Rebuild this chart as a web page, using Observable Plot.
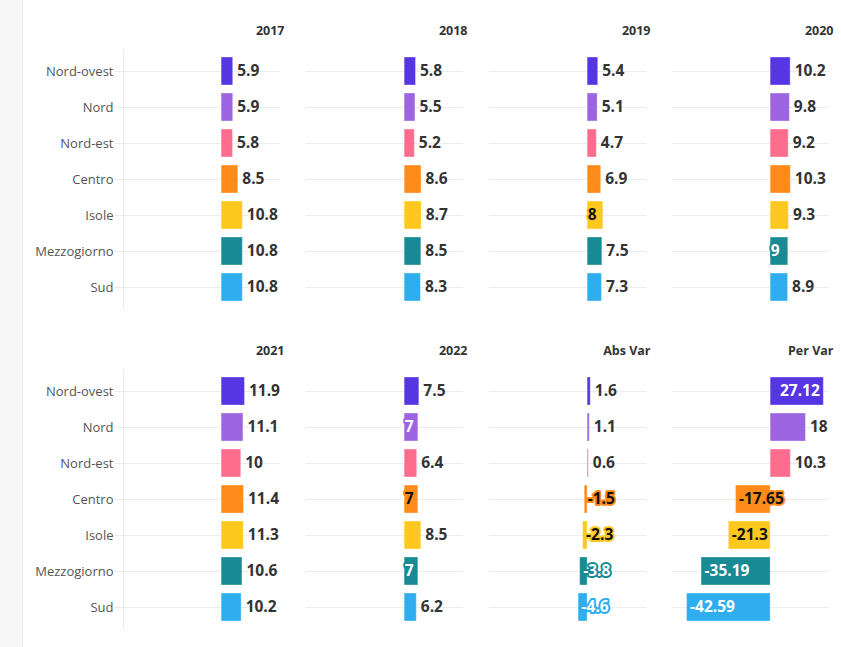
<!DOCTYPE html>
<html>
<head>
<meta charset="utf-8">
<script src="https://cdn.jsdelivr.net/npm/d3@7"></script>
<script src="https://cdn.jsdelivr.net/npm/@observablehq/plot@0.6"></script>
<style>
  html, body { margin: 0; padding: 0; background: #fff; }
  #wrap { position: relative; width: 841px; height: 647px; }
  #strip { position: absolute; left: 0; top: 0; width: 22px; height: 647px; background: #f7f7f7; border-right: 1px solid #ececec; z-index: 0; }
  #chart { position: absolute; left: 0; top: 0; z-index: 1; }
  #chart svg { background: transparent; }
</style>
</head>
<body>
<div id="wrap"><div id="strip"></div><div id="chart"></div></div>
<script>
const regions = ["Nord-ovest", "Nord", "Nord-est", "Centro", "Isole", "Mezzogiorno", "Sud"];
const colors = ["#5636e3", "#9c64e0", "#ff6d8e", "#ff8c1a", "#ffc81f", "#178a94", "#2eaeee"];
const darkRegions = ["Nord-ovest", "Nord", "Mezzogiorno", "Sud"];
const panels = ["2017", "2018", "2019", "2020", "2021", "2022", "Abs Var", "Per Var"];

const v2017 = [5.9, 5.9, 5.8, 8.5, 10.8, 10.8, 10.8];
const v2018 = [5.8, 5.5, 5.2, 8.6, 8.7, 8.5, 8.3];
const v2019 = [5.4, 5.1, 4.7, 6.9, 8, 7.5, 7.3];
const v2020 = [10.2, 9.8, 9.2, 10.3, 9.3, 9, 8.9];
const v2021 = [11.9, 11.1, 10, 11.4, 11.3, 10.6, 10.2];
const v2022 = [7.5, 7, 6.4, 7, 8.5, 7, 6.2];
const absVar = [1.6, 1.1, 0.6, -1.5, -2.3, -3.8, -4.6];
const perVar = [27.12, 18, 10.3, -17.65, -21.3, -35.19, -42.59];

const series = [v2017, v2018, v2019, v2020, v2021, v2022, absVar, perVar];

const data = [];
series.forEach((vals, i) => {
  vals.forEach((v, j) => {
    data.push({panel: panels[i], col: i % 4, row: Math.floor(i / 4), region: regions[j], value: v});
  });
});
const headers = panels.map((p, i) => ({panel: p, col: i % 4, row: Math.floor(i / 4)}));

function place(d) {
  const v = d.value;
  if (v < 0) return "neg";
  if (Number.isInteger(v) && v < 10) return "zero";
  if (v > 25) return "end";
  return "out";
}
const colorOf = r => colors[regions.indexOf(r)];
const contrast = d => darkRegions.includes(d.region) ? "white" : "#111";
const fmt = d => String(d.value);

const font = "'Open Sans', 'Source Sans Pro', Lato, sans-serif";
const vSize = 15.5;

const chart = Plot.plot({
  width: 841,
  height: 647,
  marginLeft: 121,
  marginRight: 10,
  marginTop: 50,
  marginBottom: 19,
  style: {fontFamily: font, background: "transparent"},
  x: {domain: [-50, 30], axis: null},
  y: {domain: regions, paddingInner: 0.23, paddingOuter: 0.16, label: null},
  fx: {domain: [0, 1, 2, 3], paddingInner: 0.1413, paddingOuter: 0, axis: null},
  fy: {domain: [0, 1], paddingInner: 0.194, paddingOuter: 0, axis: null},
  color: {domain: regions, range: colors},
  marks: [
    Plot.gridY({stroke: "#000", strokeOpacity: 0.075}),
    Plot.axisY({tickSize: 8, tickPadding: 2, fontSize: 13, fill: "#555", stroke: "#000", strokeOpacity: 0.075, label: null}),
    Plot.frame({anchor: "left", facetAnchor: "left", stroke: "#000", strokeOpacity: 0.08}),
    Plot.barX(data, {x: "value", y: "region", fx: "col", fy: "row", fill: "region", stroke: "white", strokeOpacity: 0.35, strokeWidth: 1}),
    Plot.text(data.filter(d => place(d) === "out"), {
      x: "value", y: "region", fx: "col", fy: "row", text: fmt,
      textAnchor: "start", dx: 4, fill: "#333", fontSize: vSize, fontWeight: "bold", clip: "frame"
    }),
    Plot.text(data.filter(d => place(d) === "neg"), {
      x: "value", y: "region", fx: "col", fy: "row", text: fmt,
      textAnchor: "start", dx: 3, fill: contrast, stroke: d => colorOf(d.region), strokeWidth: 4,
      fontSize: vSize, fontWeight: "bold"
    }),
    Plot.text(data.filter(d => place(d) === "zero"), {
      x: d => 0, y: "region", fx: "col", fy: "row", text: fmt,
      textAnchor: "start", dx: 0, fill: contrast, stroke: d => colorOf(d.region), strokeWidth: 4,
      fontSize: vSize, fontWeight: "bold"
    }),
    Plot.text(data.filter(d => place(d) === "end"), {
      x: "value", y: "region", fx: "col", fy: "row", text: fmt,
      textAnchor: "end", dx: -4, fill: contrast,
      fontSize: vSize, fontWeight: "bold"
    }),
    Plot.text(headers, {
      fx: "col", fy: "row", text: "panel", frameAnchor: "top-right",
      lineAnchor: "middle", dy: -20, dx: 4, fill: "#333", fontSize: 12.5, fontWeight: "bold"
    })
  ]
});
document.getElementById("chart").appendChild(chart);
</script>
</body>
</html>
